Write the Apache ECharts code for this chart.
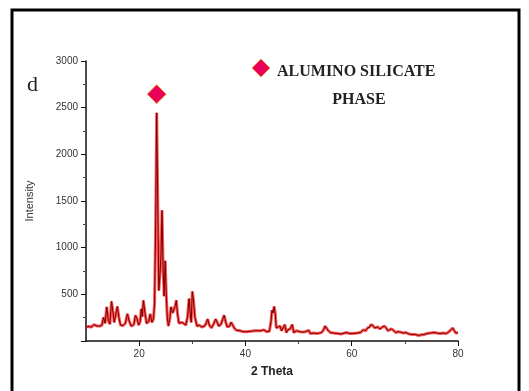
<!DOCTYPE html>
<html><head><meta charset="utf-8">
<script src="https://cdn.jsdelivr.net/npm/echarts@6/dist/echarts.min.js"></script>
<style>html,body{margin:0;padding:0;background:#fff}#c{width:529px;height:391px}</style>
</head><body><div id="c"></div>
<script>
// 2 Theta positions and intensity values
var twoTheta = [10.0,10.5,11.0,11.5,11.8,12.1,12.6,13.0,13.3,13.6,13.9,14.2,14.5,14.8,15.1,15.3,15.6,15.9,16.2,16.5,17.0,17.4,17.8,18.1,18.5,19.0,19.3,19.6,19.9,20.2,20.4,20.6,20.8,21.1,21.4,21.8,22.1,22.4,22.7,22.9,23.1,23.3,23.5,23.7,23.9,24.1,24.3,24.5,24.7,24.9,25.1,25.3,25.5,25.8,26.0,26.3,26.6,26.8,27.0,27.2,27.5,27.8,28.1,28.4,28.8,29.1,29.4,29.6,29.8,30.0,30.2,30.5,30.9,31.3,31.8,32.3,32.6,32.9,33.2,33.6,34.0,34.4,34.7,35.0,35.4,35.7,36.0,36.3,36.6,37.0,37.3,37.6,37.9,38.3,39.0,39.5,40.3,41.0,41.8,42.5,43.0,43.4,44.0,44.5,44.8,45.0,45.2,45.4,45.6,45.8,46.1,46.5,46.8,47.1,47.4,47.7,48.0,48.4,48.8,49.1,49.6,50.2,50.8,51.3,51.6,51.9,52.2,52.8,53.5,54.3,54.7,55.0,55.3,55.6,56.0,56.6,57.3,58.0,58.6,59.1,59.6,60.2,61.0,61.6,62.2,62.6,63.0,63.4,63.6,64.0,64.3,64.5,64.9,65.3,65.6,66.1,66.5,66.8,67.1,67.5,67.9,68.3,68.7,69.2,69.7,70.2,70.8,71.4,72.0,72.5,73.0,73.6,74.2,74.8,75.5,76.0,76.6,77.2,77.7,78.1,78.5,79.0,79.3,79.6,80.0];
var intensity = [150,155,150,175,185,160,160,170,255,190,365,220,180,425,300,200,280,370,250,170,165,190,290,220,160,175,275,240,170,210,345,260,435,300,190,210,290,200,240,400,1200,2445,1500,540,700,900,1400,800,480,860,500,250,160,250,365,300,320,380,435,300,190,200,200,200,170,260,455,300,200,530,450,250,160,170,150,160,190,235,170,140,180,235,200,160,180,230,275,200,150,160,200,220,140,115,110,100,100,105,110,110,110,120,100,105,200,330,300,370,300,140,150,160,110,130,175,90,120,130,175,90,110,100,95,100,120,115,80,85,80,90,120,160,155,110,90,85,80,75,85,90,80,80,85,90,120,110,140,150,175,165,140,160,150,130,120,160,140,110,120,130,110,90,100,95,85,90,75,70,70,60,65,70,80,85,90,85,80,85,80,90,110,140,110,85,90];
var phaseMarkX = [23.3];
var phaseMarkY = [2645];
var xTickLabels = [20,40,60,80];
var xMinorTicks = [30,50,70];

var pts = twoTheta.map(function(x,i){return [x,intensity[i]];});
var marks = phaseMarkX.map(function(x,i){return [x,phaseMarkY[i]];});

var chart = echarts.init(document.getElementById('c'), null, {renderer:'canvas'});
var font = 'Liberation Sans, Arial, sans-serif';
var serif = '"Liberation Serif", "Times New Roman", serif';
chart.setOption({
  animation:false,
  backgroundColor:'#fff',
  grid:{left:86,right:71,top:61,bottom:50,containLabel:false},
  xAxis:[{
    type:'value',min:10,max:80,interval:10,
    name:'2 Theta',nameLocation:'middle',nameGap:25,
    nameTextStyle:{fontFamily:font,fontSize:12,fontWeight:'bold',color:'#222'},
    axisLine:{show:true,lineStyle:{color:'#111',width:1.5}},
    axisTick:{show:true,length:5,lineStyle:{color:'#111'},customValues:xTickLabels},
    axisLabel:{fontFamily:font,fontSize:10,color:'#333',margin:8,customValues:xTickLabels},
    splitLine:{show:false}
  },{
    type:'value',min:10,max:80,interval:10,position:'bottom',
    axisLine:{show:false},
    axisTick:{show:true,length:3,lineStyle:{color:'#444'},customValues:xMinorTicks},
    axisLabel:{show:false},splitLine:{show:false}
  }],
  yAxis:{
    type:'value',min:0,max:3000,interval:500,
    name:'Intensity',nameLocation:'middle',nameGap:51,nameRotate:90,
    nameTextStyle:{fontFamily:font,fontSize:11,color:'#333'},
    axisLine:{show:true,lineStyle:{color:'#111',width:1.5}},
    axisTick:{show:true,length:5,lineStyle:{color:'#111'}},
    minorTick:{show:true,splitNumber:2,length:3,lineStyle:{color:'#444'}},
    axisLabel:{fontFamily:font,fontSize:10,color:'#333',margin:8,
      formatter:function(v){return v===0?'':String(v);}},
    splitLine:{show:false}
  },
  series:[{
    type:'line',data:pts,symbol:'none',xAxisIndex:0,
    lineStyle:{color:'rgba(255,30,30,0.75)',width:3},z:2
  },{
    type:'line',data:pts,symbol:'none',xAxisIndex:0,
    lineStyle:{color:'#7a0000',width:1},z:3
  },{
    type:'scatter',data:marks,symbol:'diamond',symbolSize:[19,19],xAxisIndex:0,
    itemStyle:{color:'#e8005a',opacity:1,borderColor:'#f0a030',borderWidth:1},z:4
  }],
  graphic:[
    {type:'rect',shape:{x:12,y:10,width:507,height:390},style:{fill:'none',stroke:'#000',lineWidth:3},silent:true},
    {type:'text',x:27,y:74,style:{text:'d',font:'22px ' + serif,fill:'#222'}},
    {type:'polygon',shape:{points:[[261,59],[270,68],[261,77],[252,68]]},style:{fill:'#e8005a',stroke:'#f0a030',lineWidth:1}},
    {type:'text',x:277,y:64,style:{text:'ALUMINO SILICATE',font:'bold 16px ' + serif,fill:'#222'}},
    {type:'text',x:359,y:92,style:{text:'PHASE',align:'center',font:'bold 16px ' + serif,fill:'#222'}}
  ]
});
</script></body></html>
